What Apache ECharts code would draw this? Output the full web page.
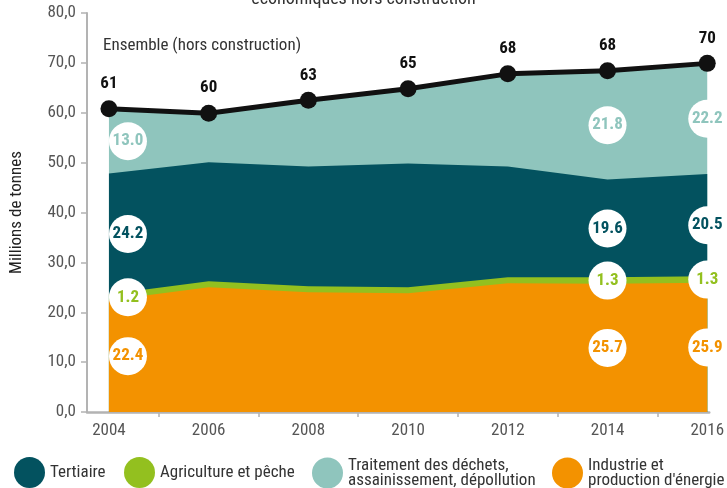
<!DOCTYPE html>
<html><head><meta charset="utf-8">
<script src="https://cdn.jsdelivr.net/npm/echarts@6/dist/echarts.min.js"></script>
<style>html,body{margin:0;padding:0;background:#fff}#c{width:727px;height:488px}</style>
</head><body><div id="c"></div>
<script>
const FONT = "'Roboto Condensed','Liberation Sans Narrow','DejaVu Sans Condensed',Roboto,sans-serif";
const years = [2004, 2006, 2008, 2010, 2012, 2014, 2016];
const industrie = [22.4, 25.0, 24.0, 23.8, 25.8, 25.7, 25.9];
const agriculture = [1.2, 1.2, 1.2, 1.2, 1.2, 1.3, 1.3];
const tertiaire = [24.2, 23.9, 24.0, 24.8, 22.2, 19.6, 20.5];
const traitement = [13.0, 9.8, 13.3, 15.0, 18.6, 21.8, 22.2];
const ensemble = [60.8, 59.9, 62.5, 64.8, 67.8, 68.4, 69.9];
const labelledIdx = [0, 5, 6];
const tickYears = [2005, 2007, 2009, 2011, 2013, 2015];

const C_TER = '#03525f', C_AGR = '#93c01f', C_TRA = '#8fc5bd', C_IND = '#f39200';

// bottom to top
const layers = [
  {name: "Industrie et\nproduction d'énergie", data: industrie, color: C_IND},
  {name: 'Agriculture et pêche', data: agriculture, color: C_AGR},
  {name: 'Tertiaire', data: tertiaire, color: C_TER},
  {name: 'Traitement des déchets,\nassainissement, dépollution', data: traitement, color: C_TRA}
];
// cumulative tops
const tops = [];
layers.forEach((l, k) => {
  tops.push(l.data.map((v, i) => v + (k > 0 ? tops[k - 1][i] : 0)));
});

const series = [];
// draw from top layer down so each lower cumulative area covers the upper one
for (let k = layers.length - 1; k >= 0; k--) {
  const l = layers[k];
  series.push({
    name: l.name, type: 'line', symbol: 'none', silent: true,
    lineStyle: {width: 0, color: l.color}, areaStyle: {color: l.color, opacity: 1},
    itemStyle: {color: l.color},
    data: years.map((y, i) => [y, tops[k][i]])
  });
}
series.push({
  name: 'Ensemble', type: 'line', symbol: 'circle', symbolSize: 17,
  lineStyle: {width: 5, color: '#111'}, itemStyle: {color: '#111'}, z: 5,
  label: {show: true, position: 'top', distance: 8, fontFamily: FONT, fontWeight: 'bold', fontSize: 17, color: '#111',
    formatter: p => Math.round(p.value[1])},
  data: years.map((y, i) => [y, ensemble[i]])
});
// label circles at band midpoints
const circData = [];
labelledIdx.forEach(i => {
  layers.forEach((l, k) => {
    const v = l.data[i];
    circData.push({
      value: [years[i], tops[k][i] - v / 2, v],
      symbolOffset: i === 0 ? [19, 0] : [0, 0],
      label: {color: l.color}
    });
  });
});
series.push({
  type: 'scatter', symbol: 'circle', symbolSize: 38, z: 6,
  itemStyle: {color: '#fff', opacity: 1},
  label: {show: true, position: 'inside', fontFamily: FONT, fontWeight: 'bold', fontSize: 17,
    formatter: p => p.value[2].toFixed(1)},
  data: circData
});

const legendLefts = [9, 119, 307, 547];
const legendOrder = [2, 1, 3, 0];
const legends = legendOrder.map((li, k) => ({
  data: [layers[li].name], left: legendLefts[k], top: 452, icon: 'circle',
  itemWidth: 31, itemHeight: 31, itemGap: 0, selectedMode: false,
  textStyle: {fontFamily: FONT, fontSize: 17, color: '#333', lineHeight: 15}
}));

const chart = echarts.init(document.getElementById('c'), null, {renderer: 'canvas'});
chart.setOption({
  animation: false,
  backgroundColor: '#fff',
  grid: {left: 81, right: 15, top: 13, bottom: 76},
  legend: legends,
  graphic: [
    {type: 'text', left: 'center', top: -10, style: {text: 'économiques hors construction', fontFamily: FONT, fontSize: 18, fill: '#333'}},
    {type: 'text', left: 103, top: 37, style: {text: 'Ensemble (hors construction)', fontFamily: FONT, fontSize: 17, fill: '#333'}}
  ],
  xAxis: {
    type: 'value', min: 2003.56, max: 2016.04,
    axisLine: {show: true, lineStyle: {color: '#b3b3b3', width: 2.5}},
    axisTick: {show: true, customValues: tickYears, length: 5, lineStyle: {color: '#b3b3b3', width: 1.5}},
    axisLabel: {customValues: years, formatter: v => String(v), fontFamily: FONT, fontSize: 17, color: '#555', margin: 10},
    splitLine: {show: false}
  },
  yAxis: {
    type: 'value', min: 0, max: 80, interval: 10,
    name: 'Millions de tonnes', nameLocation: 'middle', nameGap: 62, nameRotate: 90,
    nameTextStyle: {fontFamily: FONT, fontSize: 17, color: '#222'},
    axisLine: {show: true, lineStyle: {color: '#b3b3b3', width: 2}},
    axisTick: {show: true, length: 6, lineStyle: {color: '#b3b3b3', width: 1.5}},
    axisLabel: {formatter: v => v.toFixed(1).replace('.', ','), fontFamily: FONT, fontSize: 17, color: '#555', margin: 11},
    splitLine: {show: false}
  },
  series: series
});
</script></body></html>
